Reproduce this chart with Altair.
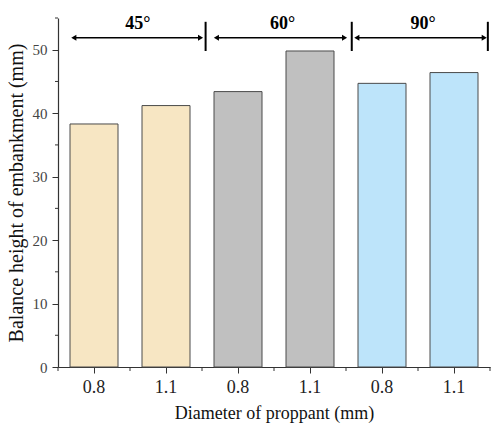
import altair as alt
import pandas as pd

# ---- data ----
diameters = ["0.8", "1.1", "0.8", "1.1", "0.8", "1.1"]
angles = ["45°", "45°", "60°", "60°", "90°", "90°"]
heights = [38.3, 41.2, 43.4, 49.8, 44.7, 46.4]
angle_names = ["45°", "60°", "90°"]
angle_colors = ["#F7E6C3", "#C0C0C0", "#BDE4FA"]

# group annotation positions (in bar-slot units, 0..6)
arrow_start = [0.22, 2.2, 4.15]
arrow_end = [1.98, 3.98, 5.92]
arrow_level = 51.9
label_pos = [1.11, 3.12, 5.07]
label_level = 54.1
sep_pos = [2.05, 4.08, 5.97]
sep_low = 49.8
sep_high = 54.4
slot_edges = [0, 1, 2, 3, 4, 5, 6]
y_minor = [5, 15, 25, 35, 45, 55]

FONT = "Liberation Serif"
W, H = 432, 349

bars_df = pd.DataFrame({
    "key": [f"{a}|{d}" for a, d in zip(angles, diameters)],
    "angle": angles,
    "height": heights,
})
arrows_df = pd.DataFrame({"x0": arrow_start, "x1": arrow_end, "y": [arrow_level] * 3})
labels_df = pd.DataFrame({"x": label_pos, "y": [label_level] * 3, "text": angle_names})
sep_df = pd.DataFrame({"x": sep_pos, "y0": [sep_low] * 3, "y1": [sep_high] * 3})
edges_df = pd.DataFrame({"x": slot_edges})
yminor_df = pd.DataFrame({"v": y_minor})

yscale = alt.Scale(domain=[0, 55], nice=False)
qx = alt.Scale(domain=[0, 6], nice=False, zero=False)

bars = alt.Chart(bars_df).mark_bar(stroke="#4a4a4a", strokeWidth=1).encode(
    x=alt.X("key:N", sort=None,
            scale=alt.Scale(paddingInner=1/3, paddingOuter=1/6),
            axis=alt.Axis(title="Diameter of proppant (mm)", labelAngle=0,
                          labelExpr="split(datum.label, '|')[1]",
                          tickSize=6, labelPadding=5, titlePadding=8,
                          labelFont=FONT, labelFontSize=18, labelColor="#222",
                          titleFont=FONT, titleFontSize=18, titleFontWeight="normal",
                          titleColor="#111")),
    y=alt.Y("height:Q", scale=yscale,
            axis=alt.Axis(title="Balance height of embankment (mm)",
                          values=[0, 10, 20, 30, 40, 50], tickSize=6,
                          labelPadding=5, titlePadding=6,
                          labelFont=FONT, labelFontSize=15, labelColor="#444",
                          titleFont=FONT, titleFontSize=20, titleFontWeight="normal",
                          titleColor="#111")),
    color=alt.Color("angle:N", scale=alt.Scale(domain=angle_names, range=angle_colors),
                    legend=None),
)

yminor = alt.Chart(yminor_df).mark_rule(color="#333", strokeWidth=1).encode(
    y=alt.Y("v:Q", scale=yscale),
    x=alt.value(-3), x2=alt.value(0),
)

arrow_lines = alt.Chart(arrows_df).mark_rule(color="black", strokeWidth=1.5).encode(
    x=alt.X("x0:Q", scale=qx, axis=None), x2="x1:Q",
    y=alt.Y("y:Q", scale=yscale),
)
heads_left = alt.Chart(arrows_df).mark_point(shape="triangle-left", filled=True,
                                             color="black", size=35, opacity=1).encode(
    x=alt.X("x0:Q", scale=qx, axis=None),
    y=alt.Y("y:Q", scale=yscale),
)
heads_right = alt.Chart(arrows_df).mark_point(shape="triangle-right", filled=True,
                                              color="black", size=35, opacity=1).encode(
    x=alt.X("x1:Q", scale=qx, axis=None),
    y=alt.Y("y:Q", scale=yscale),
)
seps = alt.Chart(sep_df).mark_rule(color="black", strokeWidth=2).encode(
    x=alt.X("x:Q", scale=qx, axis=None),
    y=alt.Y("y0:Q", scale=yscale), y2="y1:Q",
)
labels = alt.Chart(labels_df).mark_text(font=FONT, fontSize=18, fontWeight="bold",
                                        color="black").encode(
    x=alt.X("x:Q", scale=qx, axis=None),
    y=alt.Y("y:Q", scale=yscale),
    text="text:N",
)
edge_ticks = alt.Chart(edges_df).mark_rule(color="#333", strokeWidth=1).encode(
    x=alt.X("x:Q", scale=qx, axis=None),
    y=alt.value(H), y2=alt.value(H + 4),
)

annot = alt.layer(arrow_lines, heads_left, heads_right, seps, labels, edge_ticks)

chart = alt.layer(bars, yminor, annot).resolve_scale(x="independent").properties(
    width=W, height=H,
    autosize=alt.AutoSizeParams(type="none"),
    padding={"left": 58, "top": 18, "right": 1, "bottom": 58},
    background="white",
).configure_view(stroke=None).configure_axis(
    grid=False, domainColor="#333", tickColor="#333", domainWidth=1.2,
)

chart.save("out.html", embed_options={"renderer": "svg", "actions": False})
